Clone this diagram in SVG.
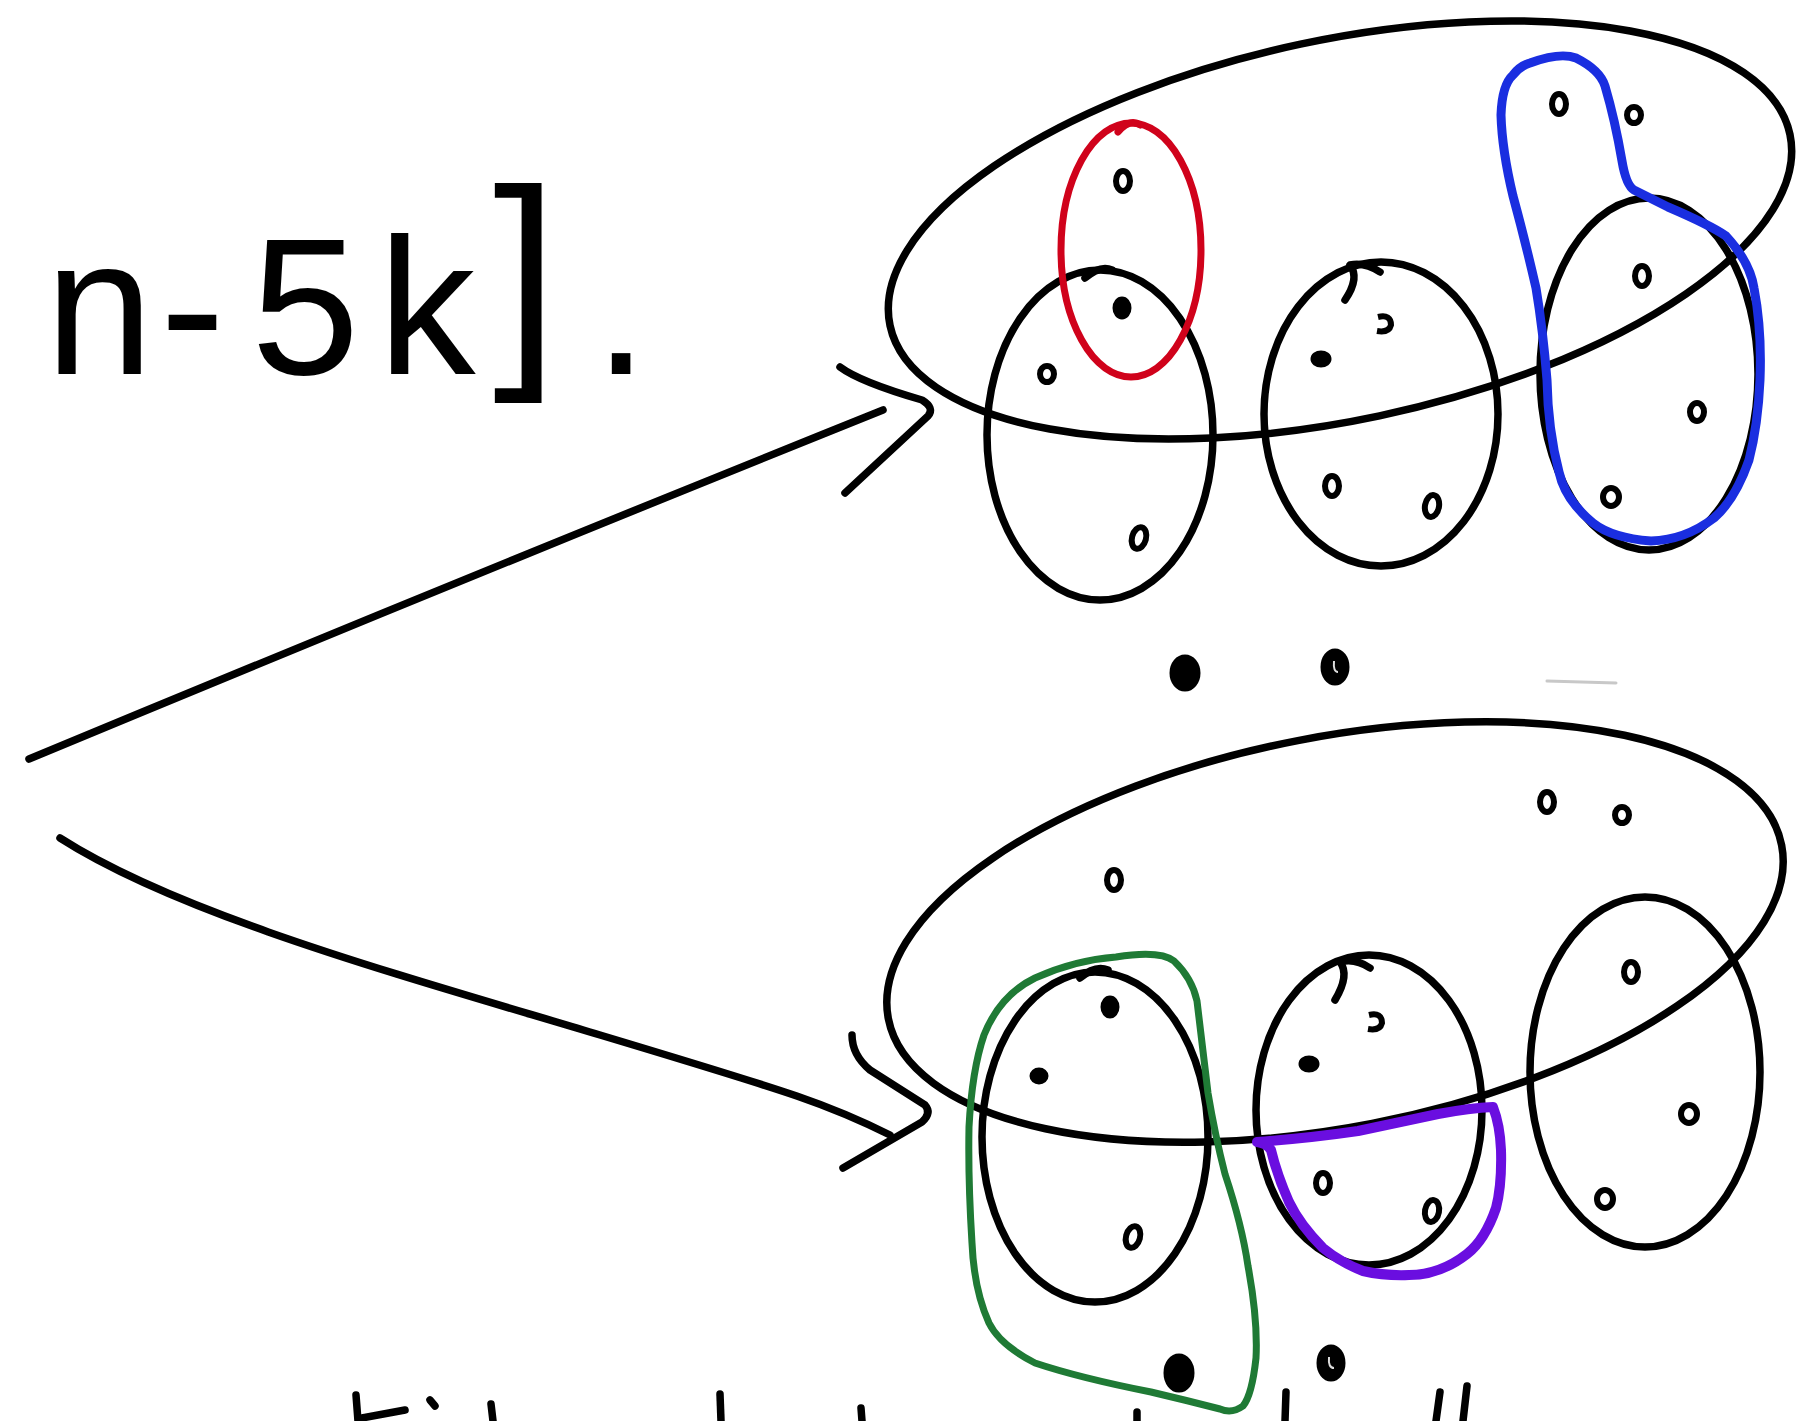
<svg xmlns="http://www.w3.org/2000/svg" width="1804" height="1421" viewBox="0 0 1804 1421">
<style>
.ink{fill:none;stroke:#000;stroke-width:7.5;stroke-linecap:round;stroke-linejoin:round}
.ring{fill:none;stroke:#000;stroke-width:6}
.dot{fill:#000;stroke:#000;stroke-width:3}
.red{fill:none;stroke:#d0021b;stroke-width:7;stroke-linecap:round;stroke-linejoin:round}
.blue{fill:none;stroke:#1a2ee0;stroke-width:9;stroke-linecap:round;stroke-linejoin:round}
.green{fill:none;stroke:#1f7a35;stroke-width:7;stroke-linecap:round;stroke-linejoin:round}
.purple{fill:none;stroke:#6a0ee0;stroke-width:10;stroke-linecap:round;stroke-linejoin:round}
.hand{font-family:"Liberation Sans","DejaVu Sans",sans-serif;fill:#000}
</style>
<rect width="1804" height="1421" fill="#fff"/>

<g id="label">
<text class="hand" y="374" font-size="195"><tspan x="45">n</tspan><tspan x="160">-</tspan><tspan x="251">5</tspan><tspan x="378">k</tspan><tspan x="493" font-size="235" dy="-20">]</tspan><tspan x="594" dy="20">.</tspan></text>
</g>

<g id="connectors">
<path class="ink" d="M29,759 Q460,580 883,410"/>
<path class="ink" d="M840,367 Q860,382 922,400 Q935,408 928,416 L845,493"/>
<path class="ink" d="M60,838 C180,915 400,975 600,1035 S830,1105 890,1135"/>
<path class="ink" d="M852,1035 Q852,1055 870,1070 L925,1105 Q932,1113 922,1122 L843,1168"/>
</g>

<g id="top-set">
<ellipse class="ink" cx="1340" cy="230" rx="460" ry="190" transform="rotate(-12 1340 230)"/>
<ellipse class="ink" cx="1100" cy="435" rx="113" ry="165"/>
<path class="ink" d="M1085,278 Q1100,265 1112,270"/>
<ellipse class="ink" cx="1381" cy="414" rx="117" ry="152"/>
<path class="ink" d="M1345,300 Q1360,278 1350,265 Q1365,262 1380,272"/>
<ellipse class="ink" cx="1649" cy="374" rx="109" ry="176"/>
</g>

<g id="red-loop">
<ellipse class="red" cx="1131" cy="250" rx="70" ry="127"/>
<path class="red" d="M1118,132 Q1130,118 1140,125"/>
</g>

<g id="blue-loop">
<path class="blue" d="M1530,63 Q1560,52 1576,58 Q1600,70 1605,86 Q1615,120 1622,161 Q1626,185 1634,190 Q1650,198 1668,207 Q1710,225 1726,236 Q1750,262 1754,288 Q1762,330 1760,380 Q1758,425 1749,460 Q1735,500 1714,518 Q1685,540 1651,541 Q1612,538 1593,523 Q1565,500 1559,472 Q1548,430 1547,380 Q1543,330 1536,288 Q1525,240 1513,196 Q1502,150 1501,115 Q1502,85 1513,75 Q1520,66 1530,63 Z"/>
</g>

<g id="top-dots">
<ellipse class="ring" cx="1123" cy="181" rx="7" ry="10"/>
<ellipse class="dot" cx="1122" cy="308" rx="8" ry="10"/>
<ellipse class="ring" cx="1047" cy="374" rx="7" ry="8"/>
<ellipse class="ring" cx="1139" cy="538" rx="7" ry="11" transform="rotate(15 1139 538)"/>
<path class="ring" d="M1378,317 Q1391,314 1391,325 Q1389,333 1377,331"/>
<ellipse class="dot" cx="1321" cy="359" rx="9" ry="7"/>
<ellipse class="ring" cx="1332" cy="486" rx="7" ry="10"/>
<ellipse class="ring" cx="1432" cy="506" rx="7" ry="11" transform="rotate(10 1432 506)"/>
<ellipse class="ring" cx="1559" cy="104" rx="7" ry="10"/>
<ellipse class="ring" cx="1634" cy="115" rx="7" ry="8"/>
<ellipse class="ring" cx="1642" cy="276" rx="7" ry="10"/>
<ellipse class="ring" cx="1697" cy="412" rx="7" ry="9"/>
<ellipse class="ring" cx="1611" cy="497" rx="8" ry="9"/>
</g>

<g id="middle-dots">
<ellipse class="dot" cx="1185" cy="673" rx="14" ry="17"/>
<ellipse class="dot" cx="1335" cy="667" rx="13" ry="17"/>
<path d="M1334,661 Q1333,672 1338,672" fill="none" stroke="#ddd" stroke-width="2"/>
<path d="M1547,681 L1616,683" fill="none" stroke="#c8c8c8" stroke-width="3" stroke-linecap="round"/>
</g>

<g id="bottom-set">
<ellipse class="ink" cx="1335" cy="932" rx="455" ry="195" transform="rotate(-11 1335 932)"/>
<ellipse class="ink" cx="1095" cy="1137" rx="113" ry="165"/>
<path class="ink" d="M1080,978 Q1095,965 1108,970"/>
<ellipse class="ink" cx="1369" cy="1110" rx="113" ry="155"/>
<path class="ink" d="M1335,1000 Q1350,975 1340,962 Q1355,958 1370,968"/>
<ellipse class="ink" cx="1645" cy="1072" rx="115" ry="175"/>
</g>

<g id="green-loop">
<path class="green" d="M1116,957 Q1160,950 1174,961 Q1192,978 1197,1001 Q1203,1050 1208,1093 Q1215,1135 1225,1174 Q1242,1225 1248,1266 Q1258,1320 1256,1358 Q1252,1395 1243,1406 Q1232,1414 1220,1409 Q1185,1400 1151,1392 Q1080,1378 1035,1363 Q1000,1345 989,1323 Q974,1290 972,1243 Q968,1180 969,1127 Q972,1070 984,1035 Q1000,995 1035,978 Q1075,960 1116,957 Z"/>
</g>

<g id="purple-loop">
<path class="purple" d="M1257,1142 Q1310,1138 1358,1131 Q1400,1122 1438,1114 Q1470,1108 1493,1107 Q1500,1125 1501,1150 Q1502,1185 1496,1208 Q1485,1240 1467,1254 Q1440,1275 1409,1275 Q1385,1276 1363,1271 Q1340,1262 1323,1248 Q1300,1225 1289,1202 Q1277,1175 1271,1150 Q1266,1143 1257,1142"/>
</g>

<g id="bottom-dots">
<ellipse class="ring" cx="1114" cy="880" rx="7" ry="10"/>
<ellipse class="ring" cx="1547" cy="802" rx="7" ry="10"/>
<ellipse class="ring" cx="1622" cy="815" rx="7" ry="8"/>
<ellipse class="dot" cx="1110" cy="1007" rx="8" ry="10"/>
<ellipse class="dot" cx="1039" cy="1076" rx="8" ry="7"/>
<path class="ring" d="M1369,1015 Q1382,1012 1382,1023 Q1380,1031 1368,1029"/>
<ellipse class="dot" cx="1309" cy="1064" rx="9" ry="7"/>
<ellipse class="ring" cx="1133" cy="1237" rx="7" ry="11" transform="rotate(15 1133 1237)"/>
<ellipse class="ring" cx="1323" cy="1183" rx="7" ry="10"/>
<ellipse class="ring" cx="1432" cy="1211" rx="7" ry="11" transform="rotate(10 1432 1211)"/>
<ellipse class="ring" cx="1631" cy="972" rx="7" ry="10"/>
<ellipse class="ring" cx="1689" cy="1114" rx="8" ry="9"/>
<ellipse class="ring" cx="1605" cy="1199" rx="8" ry="9"/>
<ellipse class="dot" cx="1179" cy="1373" rx="14" ry="18"/>
<ellipse class="dot" cx="1331" cy="1363" rx="13" ry="17"/>
<path d="M1329,1357 Q1328,1368 1334,1368" fill="none" stroke="#ddd" stroke-width="2"/>
</g>

<g id="cut-off-strokes">
<path class="ink" d="M356,1395 L358,1421"/>
<path class="ink" d="M362,1418 L405,1410"/>
<path class="ink" d="M430,1400 L435,1406"/>
<path class="ink" stroke-width="9" d="M491,1404 L493,1421"/>
<path class="ink" stroke-width="5" d="M720,1394 L721,1421"/>
<path class="ink" d="M861,1408 L862,1421"/>
<path class="ink" d="M1137,1412 L1137,1421"/>
<path class="ink" stroke-width="5" d="M1286,1392 L1285,1421"/>
<path class="ink" d="M1440,1392 L1436,1421"/>
<path class="ink" d="M1467,1386 L1463,1421"/>
</g>
</svg>
